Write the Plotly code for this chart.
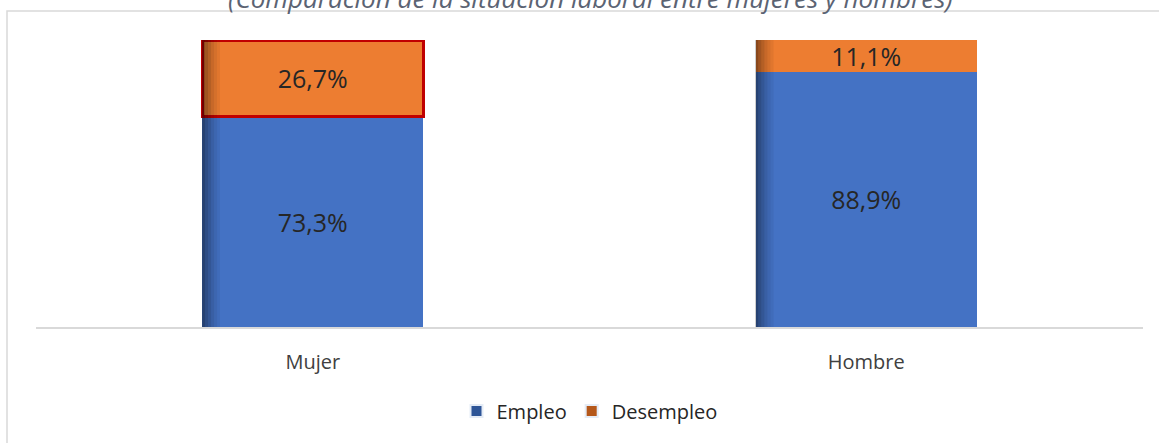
import plotly.graph_objects as go

categories = ["Mujer", "Hombre"]
empleo = [73.3, 88.9]
desempleo = [26.7, 11.1]
series_names = ["Empleo", "Desempleo"]
title_text = "(Comparación de la situación laboral entre mujeres y hombres)"

BLUE = "#4472C4"
ORANGE = "#ED7D31"
BLUE_LEG = "#2E5597"
ORANGE_LEG = "#B5581A"
FONT = "Open Sans"
BARGAP = 0.6

W, H = 1159, 443
ml, mr, mt, mb = 36, 16, 40, 116
pw, ph = W - ml - mr, H - mt - mb


def px_to_paper_x(px):
    return (px - ml) / pw


def px_to_paper_y(py):
    return (H - mb - py) / ph


fig = go.Figure()
fig.add_trace(go.Bar(
    x=categories, y=empleo, name=series_names[0], showlegend=False,
    marker=dict(color=BLUE, line=dict(width=0)),
    texttemplate="%{y:.1f}%", textposition="inside", insidetextanchor="middle",
    textangle=0, textfont=dict(family=FONT, size=25, color="#262626"),
))
fig.add_trace(go.Bar(
    x=categories, y=desempleo, name=series_names[1], showlegend=False,
    marker=dict(color=ORANGE,
                line=dict(width=[3, 0], color=["#C00000", "rgba(0,0,0,0)"])),
    texttemplate="%{y:.1f}%", textposition="inside", insidetextanchor="middle",
    textangle=0, textfont=dict(family=FONT, size=25, color="#262626"),
))
# legend entries (darker swatches as in the reference)
for nm, col in zip(series_names, [BLUE_LEG, ORANGE_LEG]):
    fig.add_trace(go.Bar(x=[None], y=[None], name=nm, marker=dict(color=col),
                         showlegend=True, hoverinfo="skip"))

# left-edge shading on each bar (decorative gradient)
half = (1 - BARGAP) / 2
strip_px = 3
strip_u = strip_px / (pw / len(categories))
opac = [0.42, 0.32, 0.24, 0.16, 0.10, 0.05]
for i, cat in enumerate(categories):
    total = empleo[i] + desempleo[i]
    for k, a in enumerate(opac):
        x0 = i - half + k * strip_u
        fig.add_shape(type="rect", xref="x", yref="y",
                      x0=x0, x1=x0 + strip_u, y0=0, y1=total,
                      line=dict(width=0), fillcolor=f"rgba(0,0,0,{a})",
                      layer="above")

fig.update_layout(
    width=W, height=H,
    margin=dict(l=ml, r=mr, t=mt, b=mb),
    barmode="stack", bargap=BARGAP,
    separators=",.",
    paper_bgcolor="white", plot_bgcolor="white",
    font=dict(family=FONT, color="#404040"),
    uniformtext=dict(mode="show", minsize=25),
    showlegend=True,
    legend=dict(orientation="h", x=0.5, xanchor="center",
                y=px_to_paper_y(411), yanchor="middle",
                font=dict(family=FONT, size=20, color="#262626"),
                itemsizing="constant", traceorder="normal"),
    xaxis=dict(showgrid=False, showline=True, linecolor="#D9D9D9", linewidth=2,
               ticks="", tickfont=dict(family=FONT, size=20, color="#404040"),
               ticklabelstandoff=16, range=[-0.5, 1.5]),
    yaxis=dict(range=[0, 100], showgrid=False, showticklabels=False,
               zeroline=False, showline=False),
)

# chart frame (partially cropped)
fig.add_shape(type="rect", xref="paper", yref="paper",
              x0=px_to_paper_x(7), x1=px_to_paper_x(1175),
              y0=px_to_paper_y(470), y1=px_to_paper_y(11),
              line=dict(color="#D9D9D9", width=1.5), fillcolor="rgba(0,0,0,0)",
              layer="below")

fig.add_annotation(text=title_text, xref="paper", yref="paper",
                   x=px_to_paper_x(590), y=px_to_paper_y(-2),
                   xanchor="center", yanchor="middle", showarrow=False,
                   font=dict(family=FONT, size=26, color="#5B6373", style="italic"))

fig.write_html("out.html", config={"displayModeBar": False},
               post_script="document.body.style.margin='0';document.body.style.overflow='hidden';")
